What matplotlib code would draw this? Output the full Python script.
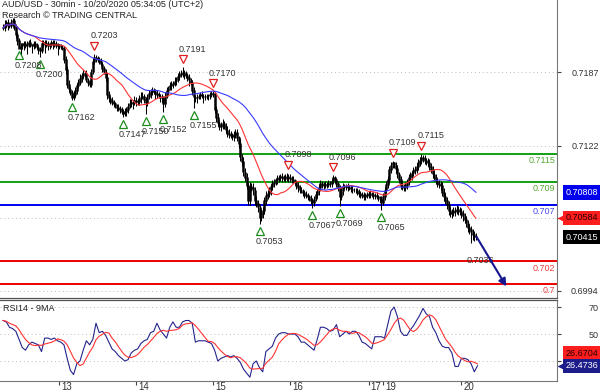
import numpy as np
import pandas as pd
import matplotlib
matplotlib.use('Agg')
import matplotlib.pyplot as plt
import matplotlib.transforms as mtransforms

plt.rcParams['font.family'] = ['Liberation Sans', 'DejaVu Sans']

# closes of each 30-min bar, in pips above 0.7000
close_pips = [
    226, 229, 231, 228, 228, 231, 233, 226, 220, 215,
    208, 210, 212, 211, 210, 212, 213, 211, 210, 212,
    211, 209, 207, 206, 212, 213, 211, 212, 210, 211,
    213, 212, 212, 210, 211, 210, 209, 208, 198, 189,
    176, 172, 169, 164, 167, 171, 175, 178, 181, 184,
    186, 186, 180, 178, 176, 187, 196, 200, 199, 198,
    196, 194, 190, 187, 182, 167, 164, 162, 160, 159,
    157, 156, 155, 154, 152, 150, 152, 154, 157, 159,
    160, 160, 162, 161, 161, 164, 165, 166, 163, 160,
    165, 168, 170, 171, 170, 168, 167, 166, 165, 164,
    159, 166, 171, 173, 175, 176, 177, 179, 180, 183,
    185, 186, 187, 185, 184, 182, 180, 178, 171, 165,
    164, 165, 166, 167, 166, 165, 165, 166, 166, 167,
    168, 168, 154, 147, 142, 139, 140, 142, 139, 136,
    133, 132, 131, 130, 132, 134, 129, 124, 112, 108,
    99, 94, 87, 74, 86, 85, 83, 74, 71, 68,
    59, 62, 65, 74, 78, 80, 83, 86, 89, 90,
    92, 93, 94, 95, 94, 93, 94, 95, 94, 93,
    92, 91, 90, 87, 85, 83, 82, 81, 79, 78,
    77, 76, 74, 72, 75, 79, 82, 85, 89, 88,
    87, 88, 88, 89, 89, 91, 94, 92, 89, 85,
    77, 82, 86, 86, 86, 85, 85, 84, 83, 83,
    83, 81, 80, 79, 78, 77, 78, 79, 80, 79,
    79, 78, 78, 77, 76, 75, 72, 77, 83, 88,
    92, 101, 105, 107, 105, 102, 97, 92, 87, 86,
    85, 87, 90, 94, 96, 98, 100, 101, 104, 107,
    109, 112, 111, 109, 108, 107, 104, 101, 97, 94,
    91, 89, 88, 87, 81, 77, 74, 70, 65, 62,
    63, 64, 65, 66, 65, 64, 62, 60, 57, 54,
    50, 48, 46, 44, 42, 41.5,
]
# wick lengths in pips above / below the candle body
wick_up = [
    3, 4, 2, 3, 2, 3, 2, 2, 3, 2,  2, 3, 1, 2, 3, 2, 2, 3, 1, 2,
    2, 2, 1, 2, 3, 2, 2, 3, 2, 2,  2, 2, 3, 2, 2, 1, 2, 2, 2, 3,
    3, 4, 2, 2, 3, 3, 2, 3, 4, 2,  3, 2, 3, 2, 2, 3, 3, 3, 2, 2,
    2, 3, 2, 2, 3, 4, 3, 2, 3, 2,  2, 2, 3, 2, 2, 2, 3, 2, 3, 4,
    3, 2, 4, 3, 2, 3, 4, 3, 2, 2,  3, 3, 2, 3, 2, 2, 3, 2, 2, 3,
    2, 3, 3, 2, 3, 3, 2, 4, 3, 3,  3, 3, 4, 2, 3, 2, 3, 2, 2, 3,
    2, 3, 2, 2, 3, 2, 3, 2, 2, 2,  2, 2, 1, 3, 4, 3, 3, 4, 2, 3,
    3, 4, 3, 2, 3, 3, 3, 2, 4, 3,  4, 3, 4, 3, 4, 3, 4, 3, 4, 3,
    3, 4, 3, 3, 4, 3, 3, 2, 3, 3,  2, 3, 2, 2, 3, 2, 3, 3, 2, 3,
    2, 3, 2, 2, 3, 2, 3, 2, 2, 3,  2, 2, 3, 2, 3, 3, 2, 3, 3, 2,
    2, 3, 2, 3, 2, 2, 2, 1, 2, 2,  2, 3, 3, 2, 2, 3, 2, 2, 3, 2,
    2, 2, 3, 2, 2, 3, 2, 2, 2, 3,  2, 2, 2, 3, 2, 2, 3, 3, 3, 3,
    3, 3, 3, 2, 1, 3, 3, 2, 3, 3,  2, 3, 3, 3, 3, 2, 3, 3, 3, 3,
    3, 3, 2, 3, 2, 3, 3, 3, 3, 3,  3, 3, 3, 3, 3, 4, 3, 3, 3, 3,
    3, 4, 3, 4, 3, 3, 3, 3, 3, 3,  3, 3, 3, 3, 3, 3,
]
wick_dn = [
    2, 3, 2, 4, 2, 2, 3, 2, 3, 4,  0, 6, 3, 5, 2, 7, 3, 2, 6, 3,
    3, 2, 4, 6, 2, 3, 7, 2, 4, 3,  2, 5, 3, 2, 8, 3, 2, 2, 3, 4,
    3, 3, 2, 2, 2, 2, 3, 2, 2, 3,  2, 3, 2, 3, 2, 2, 2, 2, 3, 2,
    2, 2, 3, 2, 3, 4, 3, 3, 2, 3,  2, 3, 2, 3, 2, 3, 2, 4, 3, 2,
    3, 6, 2, 4, 3, 3, 4, 2, 3, 10, 3, 2, 4, 3, 2, 5, 3, 2, 4, 3,
    7, 3, 2, 3, 2, 4, 3, 2, 3, 2,  3, 2, 3, 4, 2, 3, 5, 2, 4, 10,
    3, 4, 2, 3, 2, 5, 3, 2, 4, 3,  2, 3, 3, 4, 3, 3, 4, 3, 2, 3,
    3, 3, 2, 3, 4, 3, 3, 4, 3, 4,  4, 3, 3, 4, 4, 3, 4, 4, 3, 4,
    6, 3, 4, 3, 4, 3, 3, 4, 3, 3,  3, 4, 3, 3, 4, 2, 3, 3, 4, 3,
    3, 2, 3, 3, 4, 3, 2, 3, 3, 2,  3, 3, 3, 5, 3, 2, 3, 3, 2, 3,
    3, 2, 3, 2, 3, 3, 2, 3, 3, 3,  8, 3, 3, 2, 3, 3, 2, 3, 3, 2,
    3, 2, 3, 3, 2, 3, 3, 2, 3, 3,  2, 3, 3, 2, 3, 3, 7, 2, 3, 3,
    3, 3, 3, 3, 3, 4, 3, 3, 3, 3,  3, 3, 3, 3, 3, 4, 3, 3, 3, 3,
    3, 3, 3, 3, 3, 3, 3, 3, 3, 3,  3, 3, 3, 4, 3, 4, 3, 4, 4, 3,
    4, 3, 4, 3, 4, 3, 4, 4, 3, 4,  4, 4, 10, 5, 4, 3,
]

# RSI(14), one reading every 2 bars
rsi = [
    60, 59, 55, 54, 52, 46, 40, 38, 42, 44,
    43, 42, 37, 47, 47, 46, 47, 45, 44, 42,
    32, 23, 20, 28, 30, 38, 45, 42, 46, 58,
    51, 52, 49, 44, 39, 37, 34, 32, 30, 31,
    36, 38, 39, 43, 45, 46, 51, 52, 58, 53,
    50, 47, 55, 59, 55, 55, 59, 60, 60, 58,
    44, 45, 45, 45, 44, 43, 38, 30, 32, 33,
    34, 33, 34, 32, 29, 24, 21, 18, 28, 30,
    25, 22, 37, 39, 41, 47, 50, 51, 51, 50,
    50, 50, 48, 44, 44, 42, 40, 38, 46, 55,
    55, 54, 52, 53, 57, 48, 50, 52, 50, 52,
    52, 49, 44, 43, 41, 39, 48, 48, 48, 47,
    57, 67, 70, 63, 52, 49, 49, 53, 56, 60,
    64, 69, 65, 63, 55, 51, 45, 41, 40, 40,
    36, 26, 26, 32, 32, 31, 28, 22, 26.47,
]

day_bars = [35, 83, 131, 179, 228, 237, 286]
day_labels = ['13', '14', '15', '16', '17', '19', '20']

low_bars = [10, 23, 43, 75, 89, 100, 119, 160, 193, 210, 236]
low_vals = [0.7208, 0.7200, 0.7162, 0.7147, 0.7150, 0.7152, 0.7155,
            0.7053, 0.7067, 0.7069, 0.7065]
high_bars = [57, 112, 131, 178, 206, 243, 261]
high_vals = [0.7203, 0.7191, 0.7170, 0.7098, 0.7096, 0.7109, 0.7115]
last_low_bar, last_low_val = 292, 0.7036

resistances = [0.7115, 0.709]
pivot = 0.707
supports = [0.702, 0.7]
target_bar, target_val = 314, 0.6998

last_close_lbl = 0.70415
ma_fast_lbl = 0.70584
ma_slow_lbl = 0.70808
rsi_lbl, rsi_ma_lbl = 26.4736, 26.6704

price_ticks = [0.6994, 0.7058, 0.7122, 0.7187]
rsi_ticks = [30, 50, 70]

# ---- derived series
close = 0.7 + np.array(close_pips) / 10000
opn = np.r_[close[0], close[:-1]]
body_lo = np.minimum(opn, close)
body_hi = np.maximum(opn, close)
hi = body_hi + np.array(wick_up) / 10000
lo = body_lo - np.array(wick_dn) / 10000
bars = np.arange(len(close))
ma_fast = pd.Series(close).rolling(20, min_periods=1).mean()
ma_slow = pd.Series(close).rolling(50, min_periods=1).mean()
rsi_x = np.arange(len(rsi)) * 2
rsi_ma = pd.Series(rsi).rolling(5, min_periods=1).mean()

fig = plt.figure(figsize=(6, 3.92), dpi=100)
ax = fig.add_axes([0, 1 - 298 / 392, 557 / 600, 298 / 392])
ax2 = fig.add_axes([0, 1 - 381 / 392, 557 / 600, 81 / 392], sharex=ax)

GREEN, BLUE, RED = '#11a011', '#0000f0', '#ee0000'
txt = '#333333'

# grid
for t in price_ticks:
    ax.axhline(t, color='#bbbbbb', lw=0.7, ls=(0, (1, 3)), zorder=0)
for t in rsi_ticks:
    ax2.axhline(t, color='#bbbbbb', lw=0.7, ls=(0, (1, 3)), zorder=0)

# levels
for lv in resistances:
    ax.axhline(lv, color=GREEN, lw=1.4, zorder=1)
ax.axhline(pivot, color=BLUE, lw=1.4, zorder=1)
for lv in supports:
    ax.axhline(lv, color=RED, lw=1.4, zorder=1)

lvl_txt = [(resistances[0], '#55aa33'), (resistances[1], '#55aa33'),
           (pivot, '#4a4aee'), (supports[0], '#ee4040'), (supports[1], '#ee4040')]
for lv, c in lvl_txt:
    ax.annotate(f'{lv:g}', xy=(1, lv), xycoords=('axes fraction', 'data'),
                xytext=(-1, -1.5), textcoords='offset points', ha='right', va='top',
                fontsize=6.5, color=c, zorder=6)

# candles
ax.vlines(bars, lo, hi, color='black', lw=0.75, zorder=2)
ax.vlines(bars, body_lo - 0.00003, body_hi + 0.00003, color='black', lw=1.8, zorder=2)

# moving averages
ax.plot(bars, ma_fast, color='#ff3333', lw=0.8, zorder=3)
ax.plot(bars, ma_slow, color='#3a3aff', lw=0.8, zorder=3)

# swing markers
for b, v in zip(low_bars, low_vals):
    ax.plot([b], [v], ls='none', marker='^', ms=5.5, mfc='white', mec='#1c8c1c', mew=0.9,
            transform=mtransforms.offset_copy(ax.transData, fig=fig, y=-7, units='dots'), zorder=5)
    ax.annotate(f'{v:.4f}', xy=(b, v), xytext=(-3, -12.5), textcoords='offset points',
                ha='left', va='center', fontsize=6.5, color=txt, zorder=6)
for b, v in zip(high_bars, high_vals):
    ax.plot([b], [v], ls='none', marker='v', ms=5.5, mfc='white', mec='#e02020', mew=0.9,
            transform=mtransforms.offset_copy(ax.transData, fig=fig, y=8, units='dots'), zorder=5)
    ax.annotate(f'{v:.4f}', xy=(b, v), xytext=(-3, 13), textcoords='offset points',
                ha='left', va='center', fontsize=6.5, color=txt, zorder=6)
ax.annotate(f'{last_low_val:.4f}', xy=(last_low_bar, last_low_val), xytext=(-3, -12.5),
            textcoords='offset points', ha='left', va='center', fontsize=6.5, color=txt, zorder=6)

# projection arrow
ax.annotate('', xy=(target_bar, target_val), xytext=(bars[-1] + 0.5, close[-1]),
            arrowprops=dict(arrowstyle='-|>', color='#16168f', lw=1.5, mutation_scale=11,
                            shrinkA=0, shrinkB=0), zorder=7)


def tag(a, val, text, fc, tc, dy=0, pointer=False):
    a.annotate(text, xy=(1, val), xycoords=('axes fraction', 'data'), xytext=(6, dy),
               textcoords='offset points', ha='left', va='center', fontsize=6.5, color=tc,
               annotation_clip=False, zorder=10,
               bbox=dict(boxstyle='square,pad=0.3', fc=fc, ec='none'))
    if pointer:
        tr = mtransforms.blended_transform_factory(a.transAxes, a.transData)
        a.plot([1], [val], marker='<', ms=6, color=fc, mec='none', clip_on=False, zorder=10,
               transform=mtransforms.offset_copy(tr, fig=fig, x=4, units='dots'))


tag(ax, ma_slow_lbl, f'{ma_slow_lbl:.5f}', '#0000ee', 'white')
tag(ax, ma_fast_lbl, f'{ma_fast_lbl:.5f}', '#ff1e1e', '#2a0000', pointer=True)
tag(ax, last_close_lbl, f'{last_close_lbl:.5f}', 'black', 'white')

ax.set_ylim(0.69878, 0.72505)
ax.set_xlim(-1.9, 345.6)
ax.yaxis.tick_right()
ax.set_yticks(price_ticks)
# the 0.7058 label sits under the moving-average tag
ax.set_yticklabels([f'{t:.4f}' if t != 0.7058 else '' for t in price_ticks])
ax.tick_params(axis='y', length=3, width=0.8, color='#444444', pad=27, labelsize=6.5,
               labelcolor=txt)
for lb in ax.get_yticklabels():
    lb.set_horizontalalignment('right')
ax.tick_params(axis='x', bottom=False, labelbottom=False)
for s in ['left', 'top']:
    ax.spines[s].set_visible(False)
ax.spines['right'].set_color('#777777')
ax.spines['bottom'].set_color('#555555')
ax.spines['bottom'].set_linewidth(0.9)

ax.text(0.004, 0.985, 'AUD/USD - 30min - 10/20/2020 05:34:05 (UTC+2)', transform=ax.transAxes,
        fontsize=6.5, color='#222222', va='center', zorder=8)
ax.text(0.004, 0.948, 'Research \u00a9 TRADING CENTRAL', transform=ax.transAxes,
        fontsize=6.5, color='#222222', va='center', zorder=8)

# RSI panel
ax2.plot(rsi_x, rsi, color='#24248c', lw=0.8, zorder=3)
ax2.plot(rsi_x, rsi_ma, color='#ff3333', lw=0.8, zorder=3)
ax2.set_ylim(15.2, 75.2)
ax2.yaxis.tick_right()
ax2.set_yticks(rsi_ticks)
ax2.set_yticklabels(['' if t == 30 else str(t) for t in rsi_ticks])
ax2.tick_params(axis='y', length=3, width=0.8, color='#444444', pad=27, labelsize=6.5,
                labelcolor=txt)
for lb in ax2.get_yticklabels():
    lb.set_horizontalalignment('right')
tag(ax2, rsi_ma_lbl, f'{rsi_ma_lbl:.4f}', '#ff1e1e', '#2a0000', dy=9)
tag(ax2, rsi_lbl, f'{rsi_lbl:.4f}', '#1c1c8a', 'white', pointer=True)
ax2.text(0.006, 0.9, 'RSI14 - 9MA', transform=ax2.transAxes, fontsize=6.5, color='#222222',
         va='center')

ax2.set_xticks(day_bars)
ax2.set_xticklabels([])
ax2.tick_params(axis='x', length=3, width=0.8, color='#444444')
for b, l in zip(day_bars, day_labels):
    ax2.annotate(l, xy=(b, 0), xycoords=('data', 'axes fraction'), xytext=(1.5, -4.5),
                 textcoords='offset points', ha='left', va='center', fontsize=7,
                 color=txt, annotation_clip=False)
ax2.spines['left'].set_visible(False)
ax2.spines['right'].set_color('#777777')
ax2.spines['top'].set_color('#555555')
ax2.spines['top'].set_linewidth(0.9)
ax2.spines['bottom'].set_color('#777777')

fig.savefig('out.png', dpi=100)
